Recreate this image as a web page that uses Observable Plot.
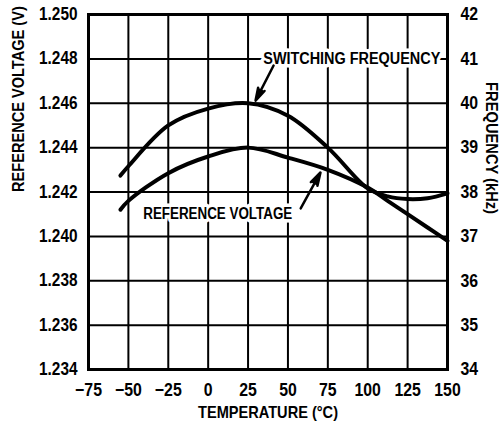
<!DOCTYPE html>
<html><head><meta charset="utf-8">
<script src="https://cdn.jsdelivr.net/npm/d3@7"></script>
<script src="https://cdn.jsdelivr.net/npm/@observablehq/plot@0.6"></script>
<style>html,body{margin:0;padding:0;background:#fff}</style>
</head><body><div id="chart"></div>
<script>
// Data
const temperatures = [-55, -50, -25, 0, 25, 50, 75, 100, 112.5, 125, 137.5, 150];
const referenceVoltage = [1.2412, 1.2416, 1.24285, 1.2436, 1.2440, 1.24355, 1.2430, 1.2422, 1.2416, 1.2410, 1.2404, 1.2398];
const switchingFrequency = [38.37, 38.58, 39.5, 39.88, 40.0, 39.72, 39.0, 38.08, 37.9, 37.84, 37.86, 37.97];

const xTicks = [-75, -50, -25, 0, 25, 50, 75, 100, 125, 150];
const voltageTicks = [1.234, 1.236, 1.238, 1.240, 1.242, 1.244, 1.246, 1.248, 1.250];
const frequencyTicks = [34, 35, 36, 37, 38, 39, 40, 41, 42];

const labels = ["SWITCHING FREQUENCY", "REFERENCE VOLTAGE"];
const labelTemp = [90, 6];
const labelValue = [41.0, 1.24103];          // frequency (kHz) / voltage (V)
const arrowFrom = [[41, 40.85], [58, 1.24126]];
const arrowTo = [[29.7, 40.06], [70.4, 1.24288]];

const vMin = 1.234, vMax = 1.250, fMin = 34, fMax = 42;
const fToV = f => vMin + (f - fMin) * (vMax - vMin) / (fMax - fMin);
const vToF = v => fMin + (v - vMin) * (fMax - fMin) / (vMax - vMin);

const refData = temperatures.map((t, i) => ({t, v: referenceVoltage[i]}));
const freqData = temperatures.map((t, i) => ({t, v: fToV(switchingFrequency[i])}));

const textData = [
  {label: labels[0], t: labelTemp[0], v: fToV(labelValue[0])},
  {label: labels[1], t: labelTemp[1], v: labelValue[1]}
];
const arrowData = [
  {x1: arrowFrom[0][0], y1: fToV(arrowFrom[0][1]), x2: arrowTo[0][0], y2: fToV(arrowTo[0][1])},
  {x1: arrowFrom[1][0], y1: arrowFrom[1][1], x2: arrowTo[1][0], y2: arrowTo[1][1]}
];

const font = '"Liberation Sans", Arial, Helvetica, sans-serif';

const chart = Plot.plot({
  width: 501, height: 426,
  marginLeft: 88, marginRight: 54, marginTop: 14, marginBottom: 57,
  style: {fontFamily: font, fontWeight: "bold", background: "white", color: "black", overflow: "visible"},
  x: {domain: [-75, 150]},
  y: {domain: [vMin, vMax]},
  marks: [
    Plot.gridX(xTicks, {stroke: "black", strokeOpacity: 1, strokeWidth: 2}),
    Plot.gridY(voltageTicks, {stroke: "black", strokeOpacity: 1, strokeWidth: 2}),
    Plot.frame({stroke: "black", strokeWidth: 3}),
    Plot.axisX(xTicks, {tickSize: 0, tickPadding: 14, fontSize: 18, label: null}),
    Plot.axisY(voltageTicks, {anchor: "left", tickSize: 0, tickPadding: 11, fontSize: 17.5, tickFormat: d3.format(".3f"), label: null}),
    Plot.axisY(frequencyTicks.map(fToV), {anchor: "right", tickSize: 0, tickPadding: 13, fontSize: 18, tickFormat: d => String(Math.round(vToF(d))), label: null}),
    Plot.text(["TEMPERATURE (°C)"], {frameAnchor: "bottom", dy: 48, fontSize: 16.5, fontWeight: "bold"}),
    Plot.text(["REFERENCE VOLTAGE (V)"], {frameAnchor: "left", dx: -70, rotate: -90, fontSize: 16, fontWeight: "bold"}),
    Plot.text(["FREQUENCY (kHz)"], {frameAnchor: "right", dx: 44, dy: 22, rotate: 90, fontSize: 16.5, fontWeight: "bold"}),
    Plot.line(freqData, {x: "t", y: "v", curve: "catmull-rom", stroke: "black", strokeWidth: 4}),
    Plot.line(refData, {x: "t", y: "v", curve: "catmull-rom", stroke: "black", strokeWidth: 4}),
    Plot.text(textData, {x: "t", y: "v", text: "label", fontSize: 16, fontWeight: "bold", fill: "black", stroke: "white", strokeWidth: 7}),
    Plot.arrow(arrowData, {x1: "x1", y1: "y1", x2: "x2", y2: "y2", stroke: "black", fill: "black", strokeWidth: 2.5, headLength: 12, headAngle: 32})
  ]
});
document.getElementById("chart").appendChild(chart);

// Condense the text to resemble the reference's narrow bold face
const fitLength = {
  "SWITCHING FREQUENCY": 177, "REFERENCE VOLTAGE": 149,
  "TEMPERATURE (°C)": 140, "REFERENCE VOLTAGE (V)": 186, "FREQUENCY (kHz)": 132
};
d3.select(chart).selectAll("text").each(function () {
  const content = this.textContent;
  const target = fitLength[content];
  const L = this.getComputedTextLength();
  const len = target != null ? target : L * 0.88;
  const tr = this.getAttribute("transform") || "";
  if (tr.includes("rotate")) {
    // rotated axis titles: squeeze along the text direction
    this.setAttribute("transform", tr + ` scale(${(len / L).toFixed(4)},1)`);
  } else {
    this.setAttribute("textLength", len.toFixed(1));
    this.setAttribute("lengthAdjust", "spacingAndGlyphs");
  }
});
</script>
</body></html>
